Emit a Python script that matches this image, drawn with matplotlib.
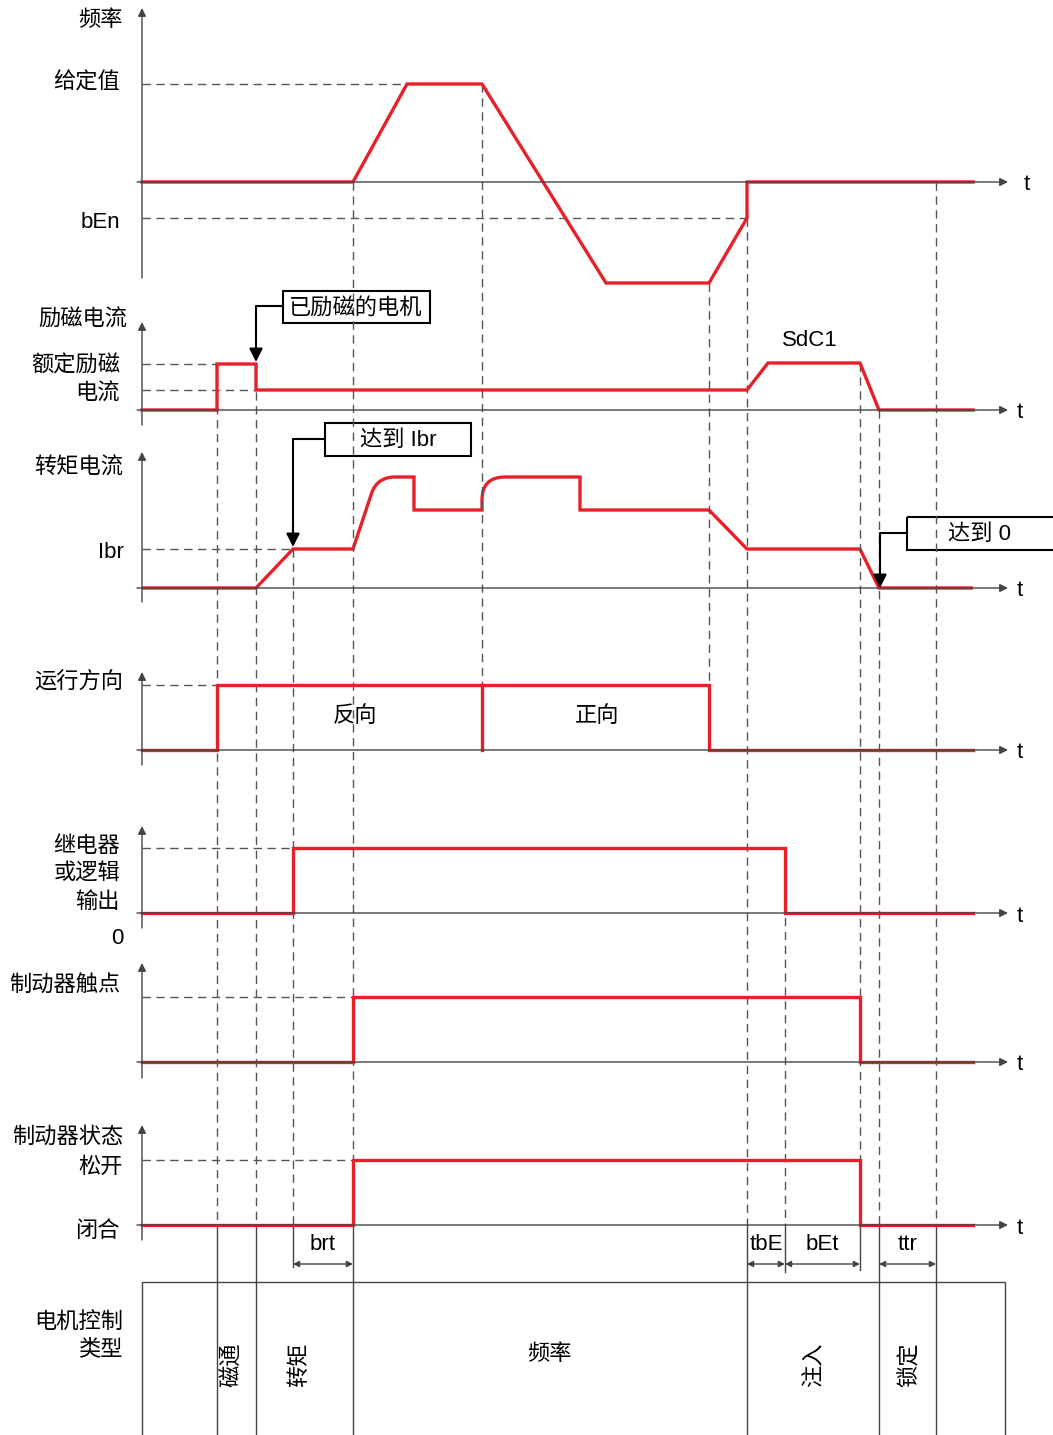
import matplotlib.pyplot as plt
from matplotlib.path import Path
from matplotlib.patches import PathPatch, Rectangle

plt.rcParams['font.family'] = ['Liberation Sans', 'Noto Sans CJK SC', 'DejaVu Sans']

RED = '#e8202a'
GREY = '#444444'
DASH = '#555555'

# time events along the t axis
t_axis = 142
t_end = 973
t_arrow = 1008

# panel baselines (zero level) and signal traces, heights measured upward from baseline
base = {'freq': 182, 'exc': 410, 'torque': 588, 'dir': 750,
        'relay': 913, 'contact': 1062, 'state': 1225}
axis_top = {'freq': 8, 'exc': 322, 'torque': 452, 'dir': 672,
            'relay': 826, 'contact': 963, 'state': 1125}
axis_bottom = {'freq': 278, 'exc': 425, 'torque': 602, 'dir': 765,
               'relay': 928, 'contact': 1078, 'state': 1240}

freq_x = [142, 353, 407, 482, 606, 709, 747, 747, 973]
freq_y = [0, 0, 98, 98, -101, -101, -36, 0, 0]

exc_x = [142, 217, 217, 256, 256, 747, 768, 860, 879, 973]
exc_y = [0, 0, 46, 46, 20, 20, 47, 47, 0, 0]

# 'L' straight segment, 'C' quadratic bend (control, end)
torque_x = [142, 256, 293, 353, 372, 378, 395, 414, 414, 482, 482, 482, 505, 580, 580, 709, 747, 860, 879, 973]
torque_y = [0, 0, 39, 39, 96, 111, 111, 111, 78, 78, 88, 111, 111, 111, 78, 78, 39, 39, 0, 0]
torque_k = ['M', 'L', 'L', 'L', 'L', 'C', 'C', 'L', 'L', 'L', 'L', 'C', 'C', 'L', 'L', 'L', 'L', 'L', 'L', 'L']

dir_x = [142, 217, 217, 709, 709, 973]
dir_y = [0, 0, 65, 65, 0, 0]
dir_split = 482

relay_x = [142, 293, 293, 785, 785, 973]
relay_y = [0, 0, 65, 65, 0, 0]

contact_x = [142, 353, 353, 860, 860, 973]
contact_y = [0, 0, 65, 65, 0, 0]

state_x = [142, 353, 353, 860, 860, 973]
state_y = [0, 0, 65, 65, 0, 0]

# dashed horizontal guides: (panel, level, x_end)
guides = [('freq', 98, 407), ('freq', -36, 747), ('exc', 46, 217), ('exc', 20, 256),
          ('torque', 39, 293), ('dir', 65, 217), ('relay', 65, 293),
          ('contact', 65, 353), ('state', 65, 353)]

# vertical event lines: x, dashed top, solid bottom
events_x = [217, 256, 293, 353, 482, 709, 747, 785, 860, 879, 936]
events_top = [364, 364, 549, 182, 84, 283, 218, 848, 363, 410, 182]
events_dash_end = [1225, 1225, 1225, 1225, 685, 685, 1225, 1225, 1225, 1225, 1225]
events_solid_end = [1435, 1435, 1267, 1435, None, None, 1435, 1272, 1270, 1435, 1435]

intervals = [('brt', 293, 353), ('tbE', 747, 785), ('bEt', 785, 860), ('ttr', 879, 936)]

ctrl_labels = ['磁通', '转矩', '频率', '注入', '锁定']
ctrl_x = [233, 300, 549, 815, 910]
ctrl_rot = [90, 90, 0, 90, 90]

fig = plt.figure(figsize=(10.53, 14.35), dpi=100)
ax = fig.add_axes([0, 0, 1, 1])
ax.set_xlim(0, 1053)
ax.set_ylim(1435, 0)
ax.axis('off')


def py(panel, v):
    return base[panel] - v


fs = 16

# axes with arrows
for p in base:
    ax.annotate('', xy=(t_axis, axis_top[p]), xytext=(t_axis, axis_bottom[p]),
                arrowprops=dict(arrowstyle='-|>', color=GREY, lw=1, mutation_scale=12, shrinkA=0, shrinkB=0))
    ax.annotate('', xy=(t_arrow, base[p]), xytext=(137, base[p]),
                arrowprops=dict(arrowstyle='-|>', color=GREY, lw=1, mutation_scale=12, shrinkA=0, shrinkB=0))
    ax.text(1027 if p == 'freq' else 1020, base[p] + 3, 't', fontsize=fs, va='center', ha='center')

# guides
for p, lvl, xe in guides:
    ax.plot([t_axis, xe], [py(p, lvl)] * 2, color=DASH, lw=1, ls=(0, (6, 4)))

# event lines
for x, top, de, se in zip(events_x, events_top, events_dash_end, events_solid_end):
    ax.plot([x, x], [top, de], color=DASH, lw=1, ls=(0, (6, 4)))
    if se is not None:
        ax.plot([x, x], [de, se], color=GREY, lw=1)

# motor control type box
ax.plot([t_axis, t_axis, 1005, 1005], [1435, 1282, 1282, 1435], color=GREY, lw=1)

# traces
lw = 2.4
ax.plot(freq_x, [py('freq', v) for v in freq_y], color=RED, lw=lw, solid_joinstyle='miter')
ax.plot(exc_x, [py('exc', v) for v in exc_y], color=RED, lw=lw, solid_joinstyle='miter')

codes = {'M': Path.MOVETO, 'L': Path.LINETO, 'C': Path.CURVE3}
tpath = Path([(x, py('torque', y)) for x, y in zip(torque_x, torque_y)], [codes[k] for k in torque_k])
ax.add_patch(PathPatch(tpath, fill=False, edgecolor=RED, lw=lw, joinstyle='miter'))

ax.plot(dir_x, [py('dir', v) for v in dir_y], color=RED, lw=lw, solid_joinstyle='miter')
ax.plot([dir_split, dir_split], [py('dir', 65), py('dir', 0)], color=RED, lw=lw)
ax.plot(relay_x, [py('relay', v) for v in relay_y], color=RED, lw=lw, solid_joinstyle='miter')
ax.plot(contact_x, [py('contact', v) for v in contact_y], color=RED, lw=lw, solid_joinstyle='miter')
ax.plot(state_x, [py('state', v) for v in state_y], color=RED, lw=lw, solid_joinstyle='miter')

# callout boxes
callouts = [('已励磁的电机', 283, 291, 147, 32, 256, 362),
            ('达到 Ibr', 325, 423, 146, 33, 293, 547),
            ('达到 0', 907, 517, 150, 33, 880, 588)]
for txt, bx, by, bw, bh, tx, ty in callouts:
    ax.add_patch(Rectangle((bx, by), bw, bh, fill=False, edgecolor='black', lw=1.5, clip_on=False))
    ax.text(bx + 73, by + bh / 2 + 1, txt, fontsize=fs, ha='center', va='center')
    ax.plot([bx, tx, tx], [by + bh / 2 - 1, by + bh / 2 - 1, ty - 20], color='black', lw=1.5)
    ax.annotate('', xy=(tx, ty), xytext=(tx, ty - 22),
                arrowprops=dict(arrowstyle='-|>', color='black', lw=1.5, mutation_scale=20, shrinkA=0, shrinkB=0))

# interval arrows
for lab, x0, x1 in intervals:
    ax.annotate('', xy=(x1, 1264), xytext=(x0, 1264),
                arrowprops=dict(arrowstyle='<|-|>', color=GREY, lw=1, mutation_scale=9, shrinkA=0, shrinkB=0))
    ax.text((x0 + x1) / 2, 1245, lab, fontsize=fs, ha='center', va='center')

# panel labels (right aligned)
labels = [('频率', 123, 20), ('给定值', 120, 83), ('bEn', 120, 223),
          ('励磁电流', 127, 320), ('额定励磁', 120, 366), ('电流', 120, 394),
          ('SdC1', 810, 340),
          ('转矩电流', 123, 468), ('Ibr', 124, 552),
          ('运行方向', 123, 683),
          ('继电器', 120, 846), ('或逻辑', 120, 874), ('输出', 120, 902), ('0', 124, 938),
          ('制动器触点', 120, 986),
          ('制动器状态', 123, 1137), ('松开', 123, 1167), ('闭合', 120, 1231),
          ('电机控制', 123, 1322), ('类型', 123, 1350)]
for txt, x, y in labels:
    ha = 'center' if txt == 'SdC1' else 'right'
    ax.text(x, y, txt, fontsize=fs, ha=ha, va='center')

ax.text(355, 717, '反向', fontsize=fs, ha='center', va='center')
ax.text(597, 717, '正向', fontsize=fs, ha='center', va='center')

for txt, x, r in zip(ctrl_labels, ctrl_x, ctrl_rot):
    ax.text(x, 1365 if r else 1355, txt, fontsize=fs, ha='center', va='center', rotation=r)

fig.savefig('out.png', dpi=100)
